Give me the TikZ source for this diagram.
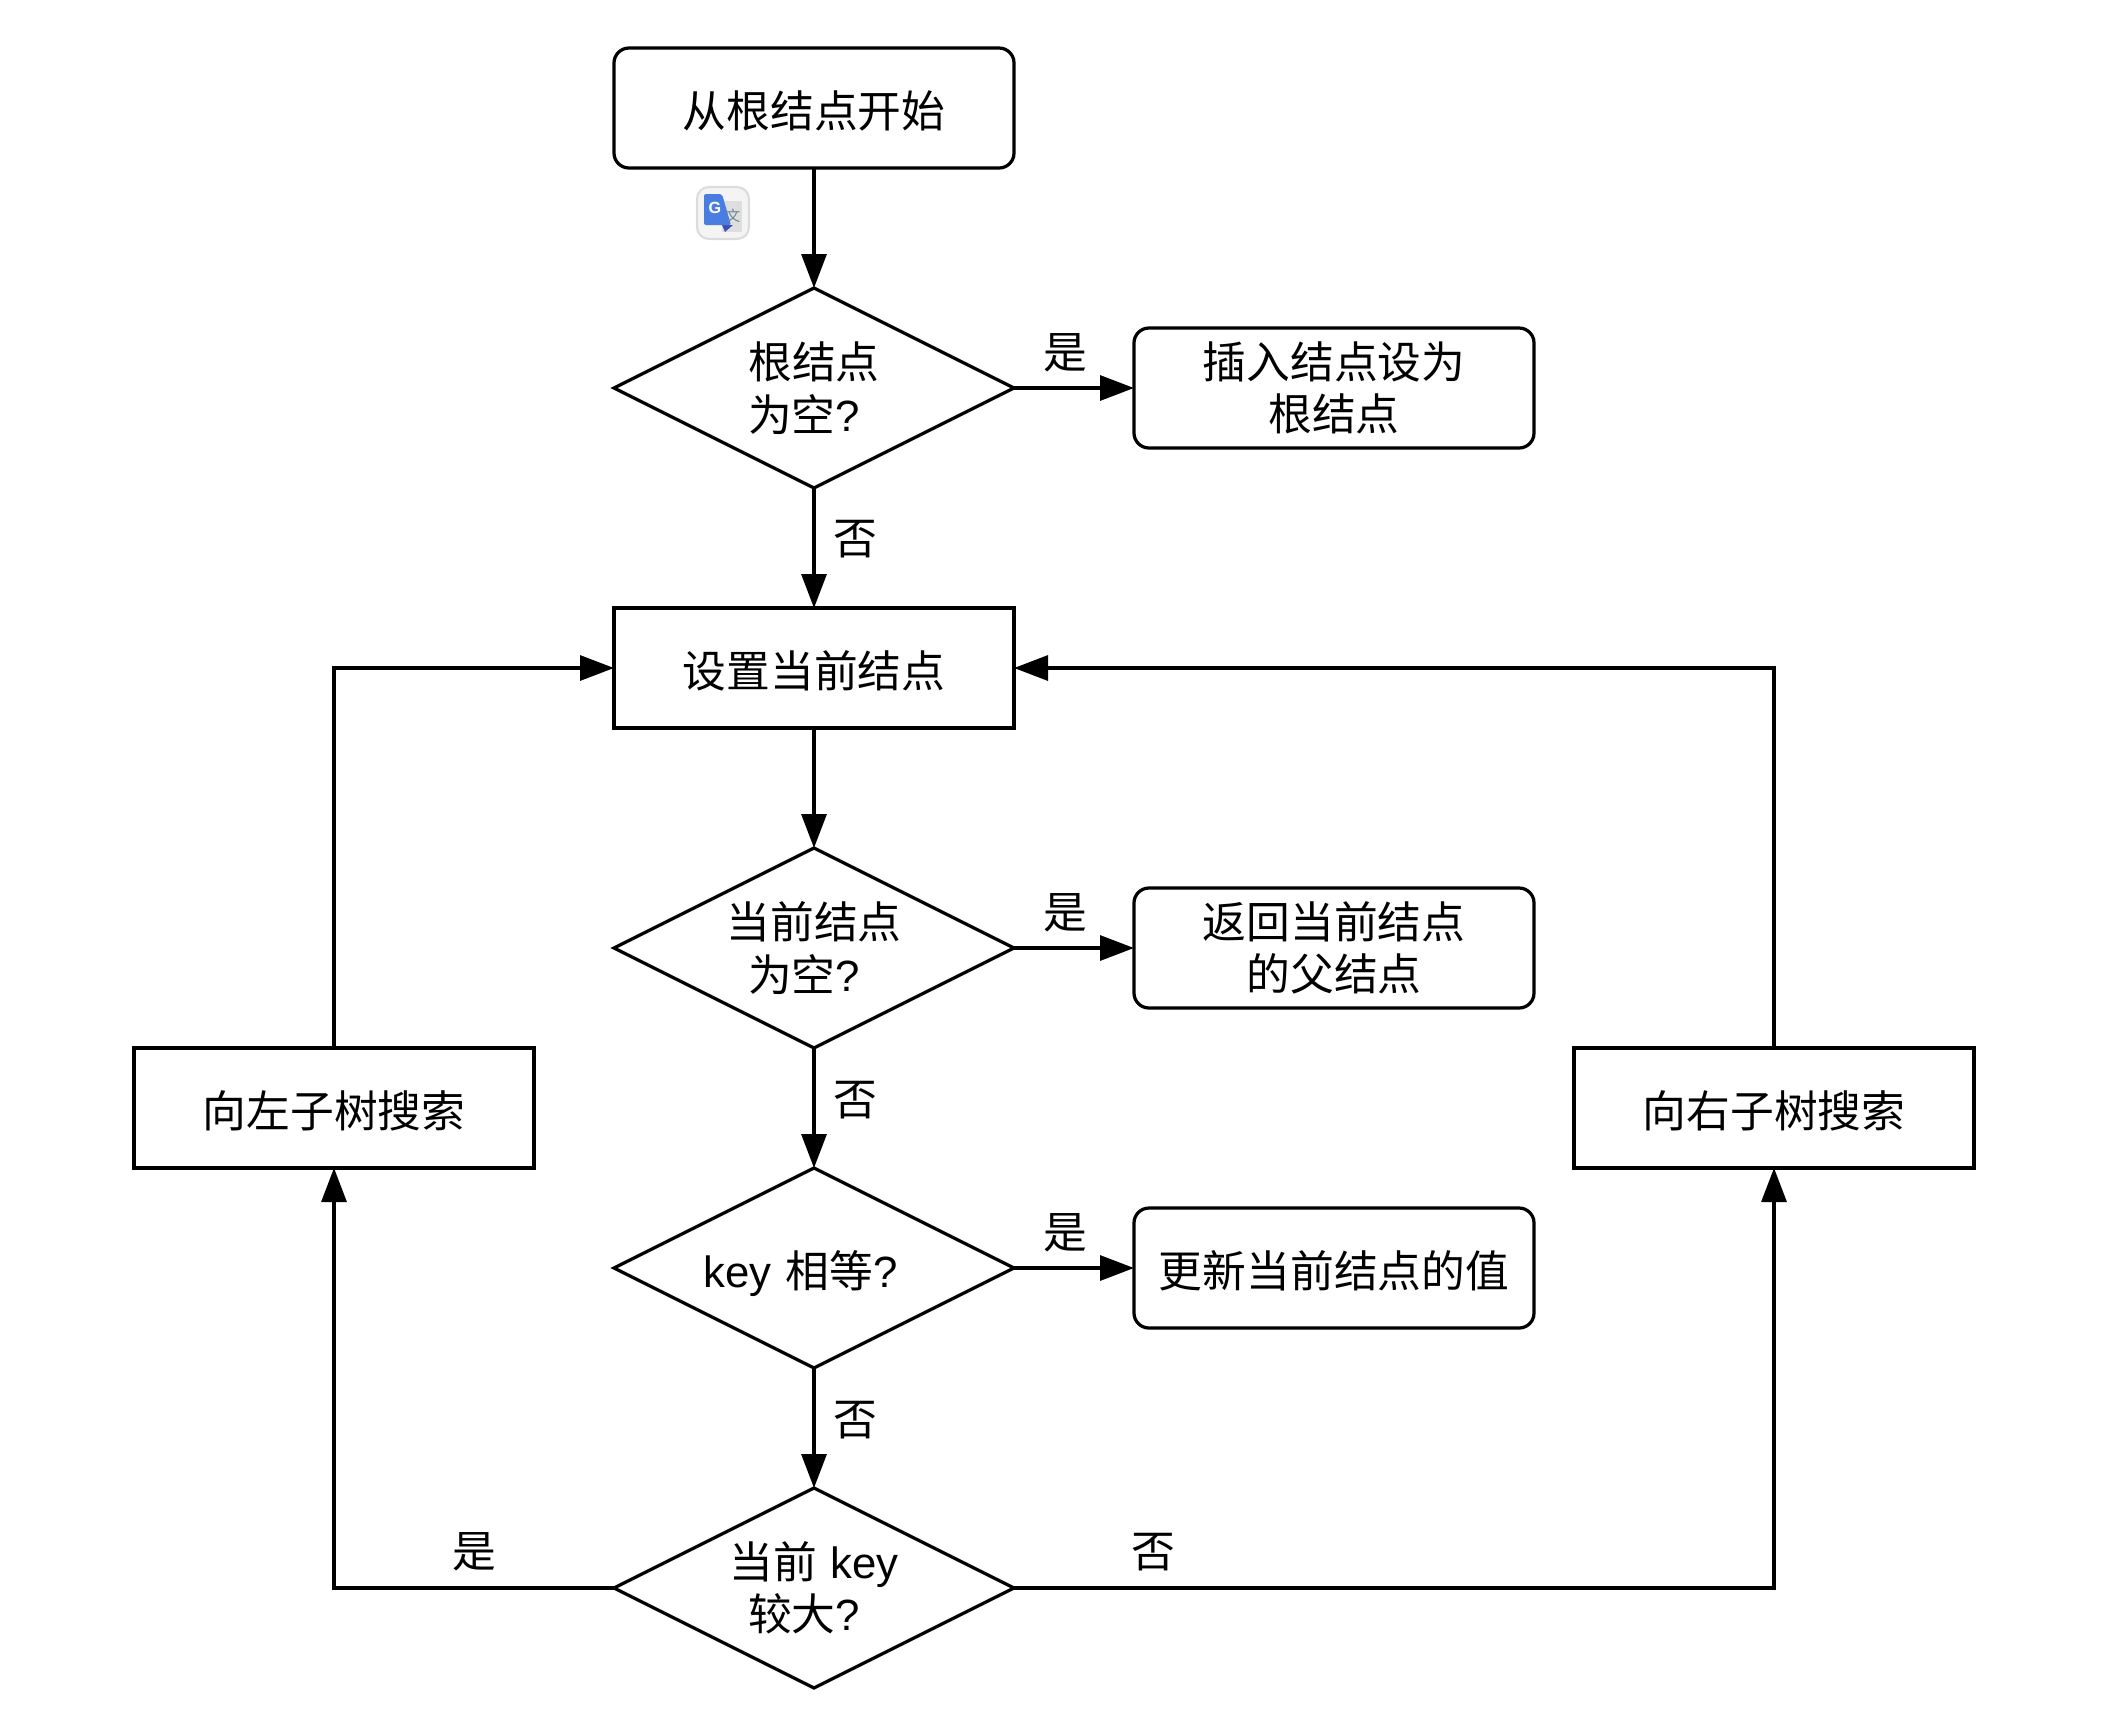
\documentclass[tikz,border=0pt]{standalone}
\usepackage{xcolor}
\usepackage{fontspec}
\setmainfont{Liberation Sans}
\newfontfamily\cjk{Noto Sans CJK SC}
\usetikzlibrary{shapes.geometric,arrows.meta}
\definecolor{iconblue}{HTML}{4A7DE2}
\definecolor{icondark}{HTML}{3F4FB5}
\definecolor{icongrey}{HTML}{DEDEDE}
\definecolor{iconedge}{HTML}{DCDCDC}
\definecolor{iconfill}{HTML}{F4F4F4}
\definecolor{iconink}{HTML}{6F8790}
\newcommand{\ques}{\textrm{?}\kern0.2cm}
\begin{document}
\begin{tikzpicture}[node distance={28mm},
  base/.style = {draw, line width=0.92pt, outer sep=0pt, font=\fontsize{12.45}{14.9}\selectfont\cjk, align=center, inner sep=0pt},
  box/.style = {base, rectangle, minimum width=40mm, minimum height=12mm},
  rbox/.style = {box, rounded corners=1.5mm},
  dec/.style = {base, diamond, aspect=2, minimum width=40mm, minimum height=20mm},
  low/.style = {text height=12.6pt, text depth=1.5pt},
  lab/.style = {font=\fontsize{12.45}{14.9}\selectfont\cjk, inner sep=0pt},
  line/.style = {line width=0.92pt, -{Triangle[length=3.4mm,width=2.5mm]}}]
\useasboundingbox (0,0) rectangle (21.22,-17.14);
\node[rbox, low] (1) at (8.14,-1.08) {从根结点开始};
\node[dec] (2) [below of=1] {根结点\\为空\ques};
\node[rbox] (3) [right of=2, xshift=2.4cm] {插入结点设为\\根结点};
\node[box, low] (4) [below of=2] {设置当前结点};
\node[dec] (5) [below of=4] {当前结点\\为空\ques};
\node[rbox] (6) [right of=5, xshift=2.4cm] {返回当前结点\\的父结点};
\node[dec, text height=13pt, text depth=2pt] (7) [below of=5, yshift=-4mm] {{\rmfamily key}\kern0.04cm\ 相等\textrm{?}\kern0.27cm};
\node[rbox, low] (8) [right of=7, xshift=2.4cm] {更新当前结点的值};
\node[dec] (9) [below of=7, yshift=-4mm] {当前\kern0.04cm\ {\rmfamily key}\\较大\ques};
\node[box, low] (10) [left of=5, xshift=-2cm, yshift=-1.6cm] {向左子树搜索};
\node[box, low] (11) [right of=5, xshift=6.8cm, yshift=-1.6cm] {向右子树搜索};
\draw[line] (1) -- (2);
\draw[line] (2) -- node[lab, above, pos=.43, yshift=1.4mm] (12) {是} (3);
\draw[line] (2) -- node[lab, right, pos=.43, xshift=1.8mm] (13) {否} (4);
\draw[line] (4) -- (5);
\draw[line] (5) -- node[lab, above, pos=.43, yshift=1.4mm] (14) {是} (6);
\draw[line] (5) -- node[lab, right, pos=.43, xshift=1.8mm] (15) {否} (7);
\draw[line] (7) -- node[lab, above, pos=.43, yshift=1.4mm] (16) {是} (8);
\draw[line] (7) -- node[lab, right, pos=.43, xshift=1.8mm] (17) {否} (9);
\draw[line] (9) -| node[lab, above, pos=.25, yshift=1.5mm] (18) {是} (10);
\draw[line] (9) -| node[lab, above, pos=.092, yshift=1.5mm] (19) {否} (11);
\draw[line] (10) |- (4);
\draw[line] (11) |- (4);
% translate badge
\draw[iconedge, fill=iconfill, line width=0.6pt, rounded corners=1.2mm] (6.97,-1.87) rectangle (7.49,-2.39);
\fill[icongrey] (7.22,-2.01) rectangle (7.42,-2.32);
\fill[icondark] (7.22,-2.25) -- (7.33,-2.25) -- (7.25,-2.32) -- cycle;
\fill[iconblue, rounded corners=0.2mm] (7.04,-1.94) -- (7.22,-1.94) -- (7.31,-2.25) -- (7.04,-2.25) -- cycle;
\node[text=white, font=\fontsize{4.6}{5}\selectfont\bfseries, inner sep=0pt] (g) at (7.15,-2.08) {G};
\node[text=iconink, font=\fontsize{4.2}{5}\selectfont\cjk, inner sep=0pt] (w) at (7.33,-2.16) {文};
\end{tikzpicture}
\end{document}
